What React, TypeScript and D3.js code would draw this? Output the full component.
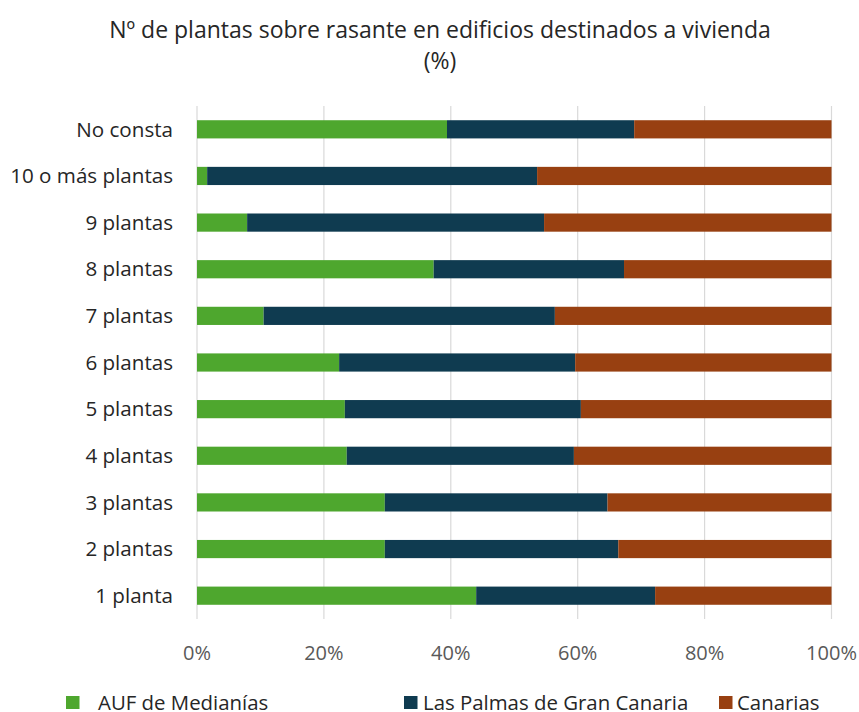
import React from "react";
import * as d3 from "d3";

const categories = [
  "No consta",
  "10 o más plantas",
  "9 plantas",
  "8 plantas",
  "7 plantas",
  "6 plantas",
  "5 plantas",
  "4 plantas",
  "3 plantas",
  "2 plantas",
  "1 planta",
];
const seriesNames = ["AUF de Medianías", "Las Palmas de Gran Canaria", "Canarias"];
const aufMedianias = [39.4, 1.6, 7.9, 37.3, 10.5, 22.4, 23.3, 23.6, 29.6, 29.6, 44.0];
const lasPalmas = [29.5, 52.0, 46.8, 30.0, 45.9, 37.2, 37.2, 35.8, 35.1, 36.8, 28.2];
const canarias = [31.1, 46.4, 45.3, 32.7, 43.6, 40.4, 39.5, 40.6, 35.3, 33.6, 27.8];
const tickValues = [0, 20, 40, 60, 80, 100];
const colors = ["#4ea72e", "#0f3b50", "#984011"];

const W = 859;
const H = 712;
const FONT = "'Open Sans', 'Noto Sans', sans-serif";

export default function App() {
  const x = d3.scaleLinear().domain([0, 100]).range([197, 831.5]);
  const y = d3.scaleBand<string>().domain(categories).range([106, 619]).paddingInner(0.61).paddingOuter(0.305);

  const rows = categories.map((c, i) => ({
    cat: c,
    v0: aufMedianias[i],
    v1: lasPalmas[i],
    v2: canarias[i],
  }));
  const stack = d3
    .stack<any>()
    .keys(["v0", "v1", "v2"])
    .offset(d3.stackOffsetExpand);
  const stacked = stack(rows);

  const legendItems = [
    { name: seriesNames[0], sx: 66, tx: 98, c: colors[0] },
    { name: seriesNames[1], sx: 404, tx: 423, c: colors[1] },
    { name: seriesNames[2], sx: 719, tx: 737, c: colors[2] },
  ];

  return (
    <div style={{ position: "absolute", left: 0, top: 0 }}>
      <svg width={W} height={H} style={{ display: "block", background: "#fff" }} fontFamily={FONT}>
        <text x={440} y={38} textAnchor="middle" fontSize={23} fill="#262626">
          Nº de plantas sobre rasante en edificios destinados a vivienda
        </text>
        <text x={440} y={69} textAnchor="middle" fontSize={23} fill="#262626">
          (%)
        </text>
        {tickValues.map((t) => (
          <line key={t} x1={x(t)} x2={x(t)} y1={106} y2={619} stroke="#d9d9d9" strokeWidth={1.2} />
        ))}
        {stacked.map((s, si) =>
          s.map((d, di) => (
            <rect
              key={si + "-" + di}
              x={x(d[0] * 100)}
              width={x(d[1] * 100) - x(d[0] * 100)}
              y={y(categories[di])}
              height={y.bandwidth()}
              fill={colors[si]}
            />
          ))
        )}
        {categories.map((c) => (
          <text
            key={c}
            x={173}
            y={(y(c) as number) + y.bandwidth() / 2}
            dy="0.35em"
            textAnchor="end"
            fontSize={20.6}
            fill="#262626"
          >
            {c}
          </text>
        ))}
        {tickValues.map((t) => (
          <text key={t} x={x(t)} y={660} textAnchor="middle" fontSize={20} fill="#595959">
            {t + "%"}
          </text>
        ))}
        {legendItems.map((l) => (
          <g key={l.name}>
            <rect x={l.sx} y={696} width={13.5} height={13} fill={l.c} />
            <text x={l.tx} y={709.5} fontSize={20.4} fill="#262626">
              {l.name}
            </text>
          </g>
        ))}
      </svg>
    </div>
  );
}
